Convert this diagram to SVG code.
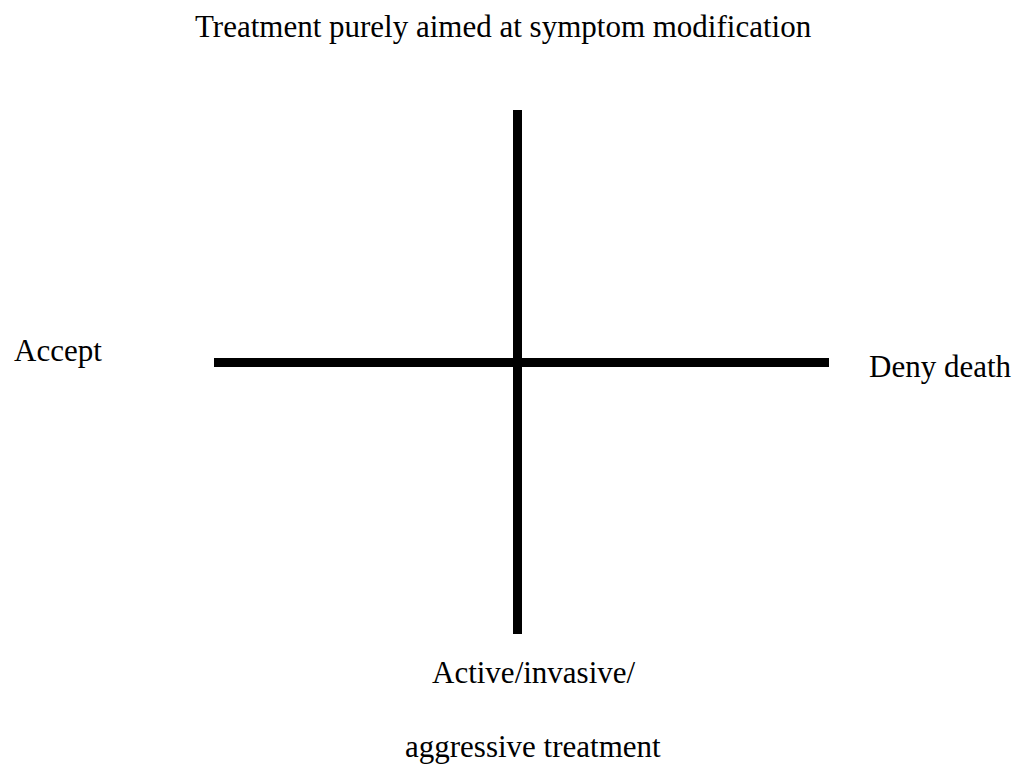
<svg xmlns="http://www.w3.org/2000/svg" width="1024" height="767" viewBox="0 0 1024 767">
<style>
text{font-family:"Liberation Serif","Times New Roman",serif;font-size:31px;fill:#000}
.ax{stroke:#000;stroke-width:9;fill:none}
</style>
<rect width="1024" height="767" fill="#fff"/>
<g id="axes">
<line class="ax" x1="517.5" y1="110" x2="517.5" y2="634"/>
<line class="ax" x1="214" y1="362.5" x2="829" y2="362.5"/>
</g>
<g id="label-top"><text x="195" y="37">Treatment purely aimed at symptom modification</text></g>
<g id="label-left"><text x="14" y="361">Accept</text></g>
<g id="label-right"><text x="869" y="377">Deny death</text></g>
<g id="label-bottom"><text x="432" y="683">Active/invasive/</text><text x="405" y="757">aggressive treatment</text></g>
</svg>
